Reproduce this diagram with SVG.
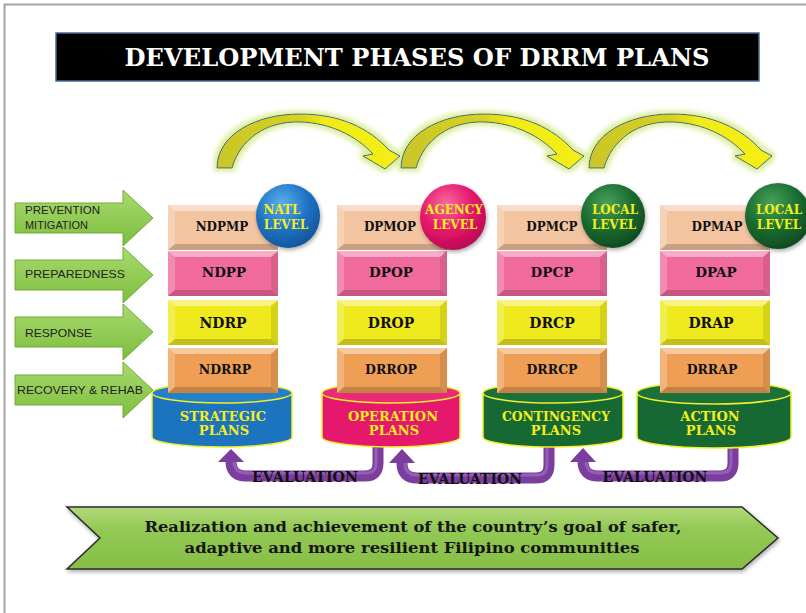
<svg xmlns="http://www.w3.org/2000/svg" xmlns:xlink="http://www.w3.org/1999/xlink" width="806" height="613" viewBox="0 0 806 613">
<style>
.lbl{font-family:"Liberation Sans",Arial,sans-serif;font-size:10.5px;fill:#222}
.blk{font-family:"DejaVu Serif",serif;font-weight:bold;fill:#111;text-anchor:middle}
.lvl{font-family:"DejaVu Serif",serif;font-weight:bold;font-size:12px;fill:#F4EE1C;text-anchor:middle}
.cyl{font-family:"DejaVu Serif",serif;font-weight:bold;font-size:13px;fill:#F4EE1C;text-anchor:middle}
.ev{font-family:"DejaVu Serif",serif;font-weight:bold;font-size:14px;fill:#111;text-anchor:middle}
.ban{font-family:"DejaVu Serif",serif;font-weight:bold;font-size:15px;fill:#151515;text-anchor:middle}
.evp{fill:none;stroke:#7B3D9E;stroke-width:11}
.evh{fill:none;stroke:#A57BC4;stroke-width:3;opacity:.55}
.cylrim{stroke:#EEF02A;stroke-width:1.5}
</style>
<defs>
<linearGradient id="gArrow" x1="0" y1="0" x2="0" y2="1"><stop offset="0" stop-color="#A9DA6E"/><stop offset="1" stop-color="#7DBE3E"/></linearGradient>
<linearGradient id="gBan" x1="0" y1="0" x2="0" y2="1"><stop offset="0" stop-color="#B2D97A"/><stop offset=".35" stop-color="#93C954"/><stop offset="1" stop-color="#86BE48"/></linearGradient>
<linearGradient id="gArc" x1="0" y1="0" x2="1" y2="0"><stop offset="0" stop-color="#C9C62A"/><stop offset=".45" stop-color="#D6D21E"/><stop offset=".6" stop-color="#F2EC14"/><stop offset="1" stop-color="#F4EE12"/></linearGradient>
<radialGradient id="cBlue" cx=".4" cy=".3" r=".75"><stop offset="0" stop-color="#5AAEEC"/><stop offset=".55" stop-color="#1F72C4"/><stop offset="1" stop-color="#125296"/></radialGradient>
<radialGradient id="cPink" cx=".4" cy=".3" r=".75"><stop offset="0" stop-color="#F76AA2"/><stop offset=".55" stop-color="#E5146A"/><stop offset="1" stop-color="#B30D50"/></radialGradient>
<radialGradient id="cGreen" cx=".4" cy=".3" r=".75"><stop offset="0" stop-color="#47A05A"/><stop offset=".55" stop-color="#1A6B30"/><stop offset="1" stop-color="#0E461F"/></radialGradient>
<filter id="glow" x="-20%" y="-30%" width="140%" height="160%">
<feMorphology in="SourceAlpha" operator="dilate" radius="3" result="d"/>
<feGaussianBlur in="d" stdDeviation="2" result="b"/>
<feFlood flood-color="#DDEFA0"/>
<feComposite in2="b" operator="in" result="g"/>
<feMerge><feMergeNode in="g"/><feMergeNode in="SourceGraphic"/></feMerge>
</filter>
<filter id="shadow" x="-20%" y="-20%" width="140%" height="150%">
<feGaussianBlur in="SourceAlpha" stdDeviation="2"/>
<feOffset dx="1" dy="2" result="o"/>
<feComponentTransfer><feFuncA type="linear" slope=".35"/></feComponentTransfer>
<feMerge><feMergeNode/><feMergeNode in="SourceGraphic"/></feMerge>
</filter>
<polygon id="garrow" points="15,-15 123,-15 123,-28 153,0 123,28 123,15 15,15" fill="url(#gArrow)" stroke="#6FAE3A" stroke-width="1"/>
<g id="bevel">
<polygon points="0,0 110,0 103,6 7,6" fill="#fff" opacity=".45"/>
<polygon points="0,0 7,6 7,39 0,45" fill="#fff" opacity=".22"/>
<polygon points="110,0 110,45 103,39 103,6" fill="#000" opacity=".1"/>
<polygon points="0,45 7,39 103,39 110,45" fill="#000" opacity=".18"/>
</g>
<path id="arc" d="M217,168 C217,135 255,114 300,114 C340,114 369,128 389,150 L400,156 L385,169 L363,156 L373,154 C356,136 331,123 300,122 C265,121 240,140 232,168 Z" fill="url(#gArc)" stroke="#3E5E8C" stroke-width="1"/>
</defs>

<rect x="0" y="0" width="806" height="613" fill="#fff"/>
<path d="M4.5,613 V4.5 H806" fill="none" stroke="#A3A3A3" stroke-width="2"/>

<g id="title">
<rect x="56" y="33" width="703" height="48" fill="#000" stroke="#4A6A96" stroke-width="1.5"/>
<text x="417" y="66" font-family="DejaVu Serif, serif" font-weight="bold" font-size="24" fill="#fff" text-anchor="middle" textLength="585" lengthAdjust="spacingAndGlyphs">DEVELOPMENT PHASES OF DRRM PLANS</text>
</g>

<g id="connectors">
<g filter="url(#glow)">
<use xlink:href="#arc"/>
<use xlink:href="#arc" transform="translate(184,0)"/>
<use xlink:href="#arc" transform="translate(372,0)"/>
</g>
<g id="eval1">
<path class="evp" d="M378,446 V463 Q378,476 365,476 H246 Q231,476 231,461"/>
<path class="evh" d="M376,448 V463 Q376,473 366,473 H246 Q234,473 234,461"/>
<polygon points="218,462 231,449 244,462" fill="#7B3D9E"/>
<text class="ev" x="305" y="482" textLength="106" lengthAdjust="spacingAndGlyphs">EVALUATION</text>
</g>
<g id="eval2">
<path class="evp" d="M549,446 V465 Q549,478 536,478 H417 Q402,478 402,463"/>
<path class="evh" d="M547,448 V465 Q547,475 537,475 H417 Q405,475 405,463"/>
<polygon points="389,463 402,449 415,463" fill="#7B3D9E"/>
<text class="ev" x="470" y="484" textLength="104" lengthAdjust="spacingAndGlyphs">EVALUATION</text>
</g>
<g id="eval3">
<path class="evp" d="M733,446 V463 Q733,476 720,476 H598 Q583,476 583,461"/>
<path class="evh" d="M731,448 V463 Q731,473 721,473 H598 Q586,473 586,461"/>
<polygon points="570,462 583,448 596,462" fill="#7B3D9E"/>
<text class="ev" x="655" y="482" textLength="105" lengthAdjust="spacingAndGlyphs">EVALUATION</text>
</g>
</g>

<g id="phase-arrows">
<g id="arrow-prevention">
<use xlink:href="#garrow" transform="translate(0,218)"/>
<text class="lbl" x="25" y="214" textLength="75" lengthAdjust="spacingAndGlyphs">PREVENTION</text>
<text class="lbl" x="25" y="229" textLength="63" lengthAdjust="spacingAndGlyphs">MITIGATION</text>
</g>
<g id="arrow-preparedness">
<use xlink:href="#garrow" transform="translate(0,275)"/>
<text class="lbl" x="25" y="278" textLength="100" lengthAdjust="spacingAndGlyphs">PREPAREDNESS</text>
</g>
<g id="arrow-response">
<use xlink:href="#garrow" transform="translate(0,332)"/>
<text class="lbl" x="25" y="337" textLength="67" lengthAdjust="spacingAndGlyphs">RESPONSE</text>
</g>
<g id="arrow-recovery">
<use xlink:href="#garrow" transform="translate(0,390)"/>
<text class="lbl" x="17" y="394" textLength="126" lengthAdjust="spacingAndGlyphs">RECOVERY &amp; REHAB</text>
</g>
</g>

<g id="strategic">
<path d="M152,393 V437 A70,10 0 0 0 292,437 V393 Z" fill="#1C74BE" class="cylrim"/>
<ellipse cx="222" cy="393" rx="70" ry="10" fill="#2580C8" class="cylrim"/>
<rect x="168" y="205" width="110" height="45" fill="#F3C4A0"/><use xlink:href="#bevel" x="168" y="205"/>
<rect x="168" y="251" width="110" height="45" fill="#F06B9C"/><use xlink:href="#bevel" x="168" y="251"/>
<rect x="168" y="300" width="110" height="45" fill="#EEEA1E"/><use xlink:href="#bevel" x="168" y="300"/>
<rect x="168" y="348" width="110" height="45" fill="#EF9F55"/><use xlink:href="#bevel" x="168" y="348"/>
<text class="blk" x="222" y="231" font-size="12">NDPMP</text>
<text class="blk" x="224" y="277" font-size="13.5">NDPP</text>
<text class="blk" x="223" y="328" font-size="14">NDRP</text>
<text class="blk" x="225" y="374" font-size="12.5">NDRRP</text>
<text class="cyl" x="223" y="421">STRATEGIC</text>
<text class="cyl" x="224" y="435">PLANS</text>
<g filter="url(#shadow)"><circle cx="288" cy="216" r="32" fill="url(#cBlue)"/></g>
<text class="lvl" x="282" y="214">NATL</text>
<text class="lvl" x="286" y="229">LEVEL</text>
</g>

<g id="operation">
<path d="M322,393 V437 A69,10 0 0 0 460,437 V393 Z" fill="#E6186D" class="cylrim"/>
<ellipse cx="391" cy="393" rx="69" ry="10" fill="#EA2A78" class="cylrim"/>
<rect x="337" y="205" width="110" height="45" fill="#F3C4A0"/><use xlink:href="#bevel" x="337" y="205"/>
<rect x="337" y="251" width="110" height="45" fill="#F06B9C"/><use xlink:href="#bevel" x="337" y="251"/>
<rect x="337" y="300" width="110" height="45" fill="#EEEA1E"/><use xlink:href="#bevel" x="337" y="300"/>
<rect x="337" y="348" width="110" height="45" fill="#EF9F55"/><use xlink:href="#bevel" x="337" y="348"/>
<text class="blk" x="390" y="231" font-size="12">DPMOP</text>
<text class="blk" x="391" y="277" font-size="13.5">DPOP</text>
<text class="blk" x="391" y="328" font-size="14">DROP</text>
<text class="blk" x="391" y="374" font-size="12.5">DRROP</text>
<text class="cyl" x="393" y="421">OPERATION</text>
<text class="cyl" x="394" y="435">PLANS</text>
<g filter="url(#shadow)"><circle cx="453" cy="217" r="33" fill="url(#cPink)"/></g>
<text class="lvl" x="454" y="214" font-size="13">AGENCY</text>
<text class="lvl" x="455" y="229">LEVEL</text>
</g>

<g id="contingency">
<path d="M483,393 V437 A70,10 0 0 0 623,437 V393 Z" fill="#176934" class="cylrim"/>
<ellipse cx="553" cy="393" rx="70" ry="10" fill="#1C713A" class="cylrim"/>
<rect x="497" y="205" width="110" height="45" fill="#F3C4A0"/><use xlink:href="#bevel" x="497" y="205"/>
<rect x="497" y="251" width="110" height="45" fill="#F06B9C"/><use xlink:href="#bevel" x="497" y="251"/>
<rect x="497" y="300" width="110" height="45" fill="#EEEA1E"/><use xlink:href="#bevel" x="497" y="300"/>
<rect x="497" y="348" width="110" height="45" fill="#EF9F55"/><use xlink:href="#bevel" x="497" y="348"/>
<text class="blk" x="552" y="231" font-size="12">DPMCP</text>
<text class="blk" x="552" y="277" font-size="13.5">DPCP</text>
<text class="blk" x="552" y="328" font-size="14">DRCP</text>
<text class="blk" x="552" y="374" font-size="12.5">DRRCP</text>
<text class="cyl" x="556" y="421" textLength="108" lengthAdjust="spacingAndGlyphs">CONTINGENCY</text>
<text class="cyl" x="556" y="435">PLANS</text>
<g filter="url(#shadow)"><circle cx="613" cy="216" r="32" fill="url(#cGreen)"/></g>
<text class="lvl" x="615" y="214">LOCAL</text>
<text class="lvl" x="614" y="229">LEVEL</text>
</g>

<g id="action">
<path d="M637,393 V437 A77,11 0 0 0 791,437 V393 Z" fill="#176934" class="cylrim"/>
<ellipse cx="714" cy="393" rx="77" ry="11" fill="#1C713A" class="cylrim"/>
<rect x="660" y="205" width="110" height="45" fill="#F3C4A0"/><use xlink:href="#bevel" x="660" y="205"/>
<rect x="660" y="251" width="110" height="45" fill="#F06B9C"/><use xlink:href="#bevel" x="660" y="251"/>
<rect x="660" y="300" width="110" height="45" fill="#EEEA1E"/><use xlink:href="#bevel" x="660" y="300"/>
<rect x="660" y="348" width="110" height="45" fill="#EF9F55"/><use xlink:href="#bevel" x="660" y="348"/>
<text class="blk" x="717" y="231" font-size="12">DPMAP</text>
<text class="blk" x="716" y="277" font-size="13.5">DPAP</text>
<text class="blk" x="711" y="328" font-size="14">DRAP</text>
<text class="blk" x="712" y="374" font-size="12.5">DRRAP</text>
<text class="cyl" x="710" y="421">ACTION</text>
<text class="cyl" x="711" y="435">PLANS</text>
<g filter="url(#shadow)"><circle cx="778" cy="216" r="33" fill="url(#cGreen)"/></g>
<text class="lvl" x="779" y="214">LOCAL</text>
<text class="lvl" x="779" y="229">LEVEL</text>
</g>

<g id="goal">
<polygon points="67,507 742,507 778,538 742,569 67,569 100,538" fill="url(#gBan)" stroke="#2B2B2B" stroke-width="1.5" filter="url(#shadow)"/>
<text class="ban" x="413" y="532" textLength="537" lengthAdjust="spacingAndGlyphs">Realization and achievement of the country’s goal of safer,</text>
<text class="ban" x="412" y="553" textLength="455" lengthAdjust="spacingAndGlyphs">adaptive and more resilient Filipino communities</text>
</g>
</svg>
